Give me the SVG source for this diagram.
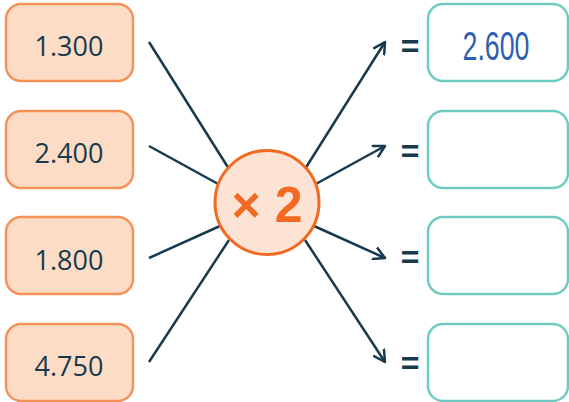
<svg xmlns="http://www.w3.org/2000/svg" width="569" height="402" viewBox="0 0 569 402">
<defs>
<style>
.in rect{fill:#fcdcc5;stroke:#f5925a;stroke-width:2.5}
.out rect{fill:#ffffff;stroke:#6fcbc2;stroke-width:2.5}
.num{font-family:"Open Sans","Liberation Sans",sans-serif;font-size:27px;fill:#173a4d;text-anchor:middle}
.ans{font-family:"Liberation Sans","Open Sans",sans-serif;font-size:40px;fill:#2f5fb2;text-anchor:middle}
.eq{font-family:"Liberation Sans",sans-serif;font-size:32px;font-weight:bold;fill:#173a4d;text-anchor:middle}
.conn line{stroke:#173a4d;stroke-width:2.5;fill:none}
</style>
<marker id="arr" viewBox="0 0 14 14" refX="12" refY="7" markerWidth="14" markerHeight="14" markerUnits="userSpaceOnUse" orient="auto">
<path d="M1,1 L12,7 L1,13" fill="none" stroke="#173a4d" stroke-width="2.5" stroke-linecap="round" stroke-linejoin="round"/>
</marker>
</defs>
<rect width="569" height="402" fill="#ffffff"/>
<g id="connectors" class="conn">
<line x1="149" y1="42" x2="229" y2="169"/>
<line x1="149" y1="146" x2="220" y2="185"/>
<line x1="149" y1="258" x2="220" y2="226"/>
<line x1="149" y1="362" x2="229" y2="240"/>
<line x1="305" y1="169" x2="385" y2="42" marker-end="url(#arr)"/>
<line x1="314" y1="185" x2="385" y2="146" marker-end="url(#arr)"/>
<line x1="314" y1="226" x2="385" y2="258" marker-end="url(#arr)"/>
<line x1="305" y1="240" x2="385" y2="362" marker-end="url(#arr)"/>
</g>
<g id="in1" class="in"><rect x="6" y="4" width="127" height="77" rx="15"/><text class="num" x="69" y="56">1.300</text></g>
<g id="in2" class="in"><rect x="6" y="111" width="127" height="77" rx="15"/><text class="num" x="69" y="163">2.400</text></g>
<g id="in3" class="in"><rect x="6" y="217" width="127" height="77" rx="15"/><text class="num" x="69" y="270">1.800</text></g>
<g id="in4" class="in"><rect x="6" y="324" width="127" height="77" rx="15"/><text class="num" x="69" y="376">4.750</text></g>
<g id="op">
<circle cx="267" cy="202.5" r="52" fill="#fde3d3" stroke="#f26a21" stroke-width="3"/>
<text x="267" y="222" font-family="Liberation Sans,sans-serif" font-size="50" font-weight="bold" fill="#f26a21" text-anchor="middle">× 2</text>
</g>
<g id="eq1"><text class="eq" x="410" y="57">=</text></g>
<g id="eq2"><text class="eq" x="410" y="162">=</text></g>
<g id="eq3"><text class="eq" x="410" y="268">=</text></g>
<g id="eq4"><text class="eq" x="410" y="374">=</text></g>
<g id="out1" class="out"><rect x="428" y="4" width="140" height="77" rx="15"/><text class="ans" x="496" y="60" textLength="67" lengthAdjust="spacingAndGlyphs">2.600</text></g>
<g id="out2" class="out"><rect x="428" y="111" width="140" height="77" rx="15"/></g>
<g id="out3" class="out"><rect x="428" y="217" width="140" height="77" rx="15"/></g>
<g id="out4" class="out"><rect x="428" y="324" width="140" height="77" rx="15"/></g>
</svg>
